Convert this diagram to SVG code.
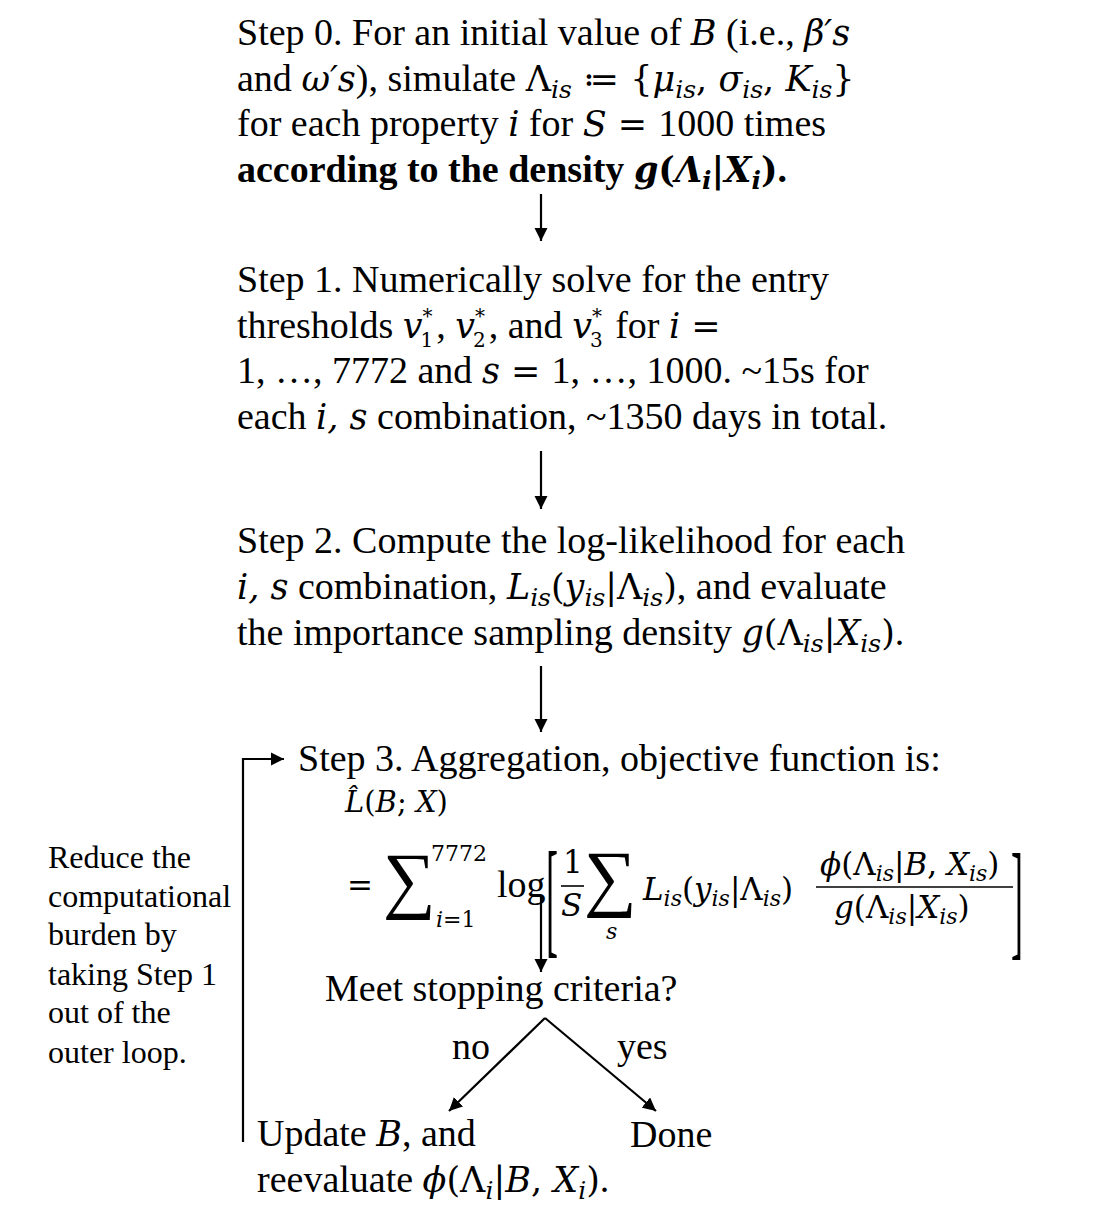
<svg xmlns="http://www.w3.org/2000/svg" width="1100" height="1210" viewBox="0 0 1100 1210">
<defs>
<style>
text{font-family:"Liberation Serif","Times New Roman",serif;fill:#000}
.t{font-size:38px}
.note{font-size:32px}
.mf{font-family:"DejaVu Serif",serif;font-style:italic;font-size:35px}
.mu{font-family:"DejaVu Serif",serif;font-size:35px}
.sb{font-family:"DejaVu Serif",serif;font-style:italic;font-size:25px}
.sn{font-family:"DejaVu Serif",serif;font-size:20px}
.f{font-family:"DejaVu Serif",serif;font-size:31px}
.fi{font-style:italic}
.fs{font-family:"DejaVu Serif",serif;font-size:22px}
.b{font-weight:bold}
.con{stroke:#000;stroke-width:2.2;fill:none}
</style>
<marker id="ah" viewBox="0 0 10 10" refX="10" refY="5" markerWidth="6" markerHeight="6" markerUnits="strokeWidth" orient="auto">
<path d="M0,0 L10,5 L0,10 z" fill="#000"/>
</marker>
</defs>
<rect width="1100" height="1210" fill="#fff"/>

<g id="step0" class="t">
<text x="237" y="45">Step 0. For an initial value of <tspan class="mf">B</tspan> (i.e., <tspan class="mf">β′s</tspan></text>
<text x="237" y="91">and <tspan class="mf">ω′s</tspan>), simulate <tspan class="mu">Λ</tspan><tspan class="sb" dy="7">is</tspan><tspan class="mu" dy="-7"> ≔ {</tspan><tspan class="mf">μ</tspan><tspan class="sb" dy="7">is</tspan><tspan class="mu" dy="-7">, </tspan><tspan class="mf">σ</tspan><tspan class="sb" dy="7">is</tspan><tspan class="mu" dy="-7">, </tspan><tspan class="mf">K</tspan><tspan class="sb" dy="7">is</tspan><tspan class="mu" dy="-7">}</tspan></text>
<text x="237" y="136">for each property <tspan class="mf">i</tspan> for <tspan class="mf">S</tspan><tspan class="mu"> = </tspan>1000 times</text>
<text x="237" y="182" class="b">according to the density <tspan class="mf b">g</tspan><tspan class="mu b">(</tspan><tspan class="mf b">Λ</tspan><tspan class="sb b" dy="7">i</tspan><tspan class="mu b" dy="-7">|</tspan><tspan class="mf b">X</tspan><tspan class="sb b" dy="7">i</tspan><tspan class="mu b" dy="-7">)</tspan>.</text>
</g>

<g id="step1" class="t">
<text x="237" y="292">Step 1. Numerically solve for the entry</text>
<text x="237" y="338">thresholds <tspan class="mf">v</tspan><tspan class="sn" dy="-15">*</tspan><tspan class="sn" dx="-12" dy="24">1</tspan><tspan dx="3" dy="-9">, </tspan><tspan class="mf">v</tspan><tspan class="sn" dy="-15">*</tspan><tspan class="sn" dx="-12" dy="24">2</tspan><tspan dx="3" dy="-9">, and </tspan><tspan class="mf">v</tspan><tspan class="sn" dy="-15">*</tspan><tspan class="sn" dx="-12" dy="24">3</tspan><tspan dx="3" dy="-9"> for </tspan><tspan class="mf">i</tspan><tspan class="mu"> =</tspan></text>
<text x="237" y="383">1, …, 7772 and <tspan class="mf">s</tspan><tspan class="mu"> = </tspan>1, …, 1000. ~15s for</text>
<text x="237" y="429">each <tspan class="mf">i, s</tspan> combination, ~1350 days in total.</text>
</g>

<g id="step2" class="t">
<text x="237" y="553">Step 2. Compute the log-likelihood for each</text>
<text x="237" y="599"><tspan class="mf">i, s</tspan> combination, <tspan class="mf">L</tspan><tspan class="sb" dy="7">is</tspan><tspan class="mu" dy="-7">(</tspan><tspan class="mf">y</tspan><tspan class="sb" dy="7">is</tspan><tspan class="mu" dy="-7">|Λ</tspan><tspan class="sb" dy="7">is</tspan><tspan class="mu" dy="-7">)</tspan>, and evaluate</text>
<text x="237" y="645">the importance sampling density <tspan class="mf">g</tspan><tspan class="mu">(Λ</tspan><tspan class="sb" dy="7">is</tspan><tspan class="mu" dy="-7">|</tspan><tspan class="mf">X</tspan><tspan class="sb" dy="7">is</tspan><tspan class="mu" dy="-7">)</tspan>.</text>
</g>

<g id="step3">
<text x="298" y="771" class="t">Step 3. Aggregation, objective function is:</text>
<text x="345" y="812" class="f" style="font-size:29px"><tspan class="fi">L̂</tspan>(<tspan class="fi">B</tspan>; <tspan class="fi">X</tspan>)</text>
<text x="347" y="896" class="f">=</text>
<text x="383" y="904" style="font-family:'Liberation Serif',serif;font-size:74px">∑</text>
<text x="431" y="861" class="fs">7772</text>
<text x="436" y="927" class="fs"><tspan class="fi">i</tspan>=1</text>
<text x="497" y="897" class="t">log</text>
<text transform="translate(546,941) scale(1,3.6)" style="font-size:36px">[</text>
<text x="563" y="873" class="f">1</text>
<line x1="561" y1="886" x2="584" y2="886" stroke="#000" stroke-width="1.6"/>
<text x="561" y="916" class="f fi">S</text>
<text x="584" y="902" style="font-family:'Liberation Serif',serif;font-size:74px">∑</text>
<text x="606" y="939" class="fs fi">s</text>
<text x="643" y="900" class="f"><tspan class="fi">L</tspan><tspan class="fs fi" dy="6">is</tspan><tspan dy="-6">(</tspan><tspan class="fi">y</tspan><tspan class="fs fi" dy="6">is</tspan><tspan dy="-6">|Λ</tspan><tspan class="fs fi" dy="6">is</tspan><tspan dy="-6">)</tspan></text>
<text x="820" y="875" class="f"><tspan class="fi">ϕ</tspan>(Λ<tspan class="fs fi" dy="6">is</tspan><tspan dy="-6">|</tspan><tspan class="fi">B</tspan>, <tspan class="fi">X</tspan><tspan class="fs fi" dy="6">is</tspan><tspan dy="-6">)</tspan></text>
<line x1="816" y1="887" x2="1013" y2="887" stroke="#000" stroke-width="1.6"/>
<text x="834" y="918" class="f"><tspan class="fi">g</tspan>(Λ<tspan class="fs fi" dy="6">is</tspan><tspan dy="-6">|</tspan><tspan class="fi">X</tspan><tspan class="fs fi" dy="6">is</tspan><tspan dy="-6">)</tspan></text>
<text transform="translate(1011,943) scale(1,3.6)" style="font-size:36px">]</text>
</g>

<g id="decision">
<text x="325" y="1001" class="t">Meet stopping criteria?</text>
</g>
<g id="label-no"><text x="452" y="1059" class="t">no</text></g>
<g id="label-yes"><text x="617" y="1059" class="t">yes</text></g>

<g id="update" class="t">
<text x="257" y="1146">Update <tspan class="mf">B</tspan>, and</text>
<text x="257" y="1192">reevaluate <tspan class="mf">ϕ</tspan><tspan class="mu">(Λ</tspan><tspan class="sb" dy="7">i</tspan><tspan class="mu" dy="-7">|</tspan><tspan class="mf">B</tspan><tspan class="mu">, </tspan><tspan class="mf">X</tspan><tspan class="sb" dy="7">i</tspan><tspan class="mu" dy="-7">)</tspan>.</text>
</g>

<g id="done"><text x="630" y="1147" class="t">Done</text></g>

<g id="note" class="note">
<text x="48" y="868">Reduce the</text>
<text x="48" y="907">computational</text>
<text x="48" y="945">burden by</text>
<text x="48" y="985">taking Step 1</text>
<text x="48" y="1023">out of the</text>
<text x="48" y="1063">outer loop.</text>
</g>

<g id="connectors">
<line class="con" x1="541" y1="194" x2="541" y2="241" marker-end="url(#ah)"/>
<line class="con" x1="541" y1="451" x2="541" y2="509" marker-end="url(#ah)"/>
<line class="con" x1="541" y1="666" x2="541" y2="732" marker-end="url(#ah)"/>
<line class="con" x1="541" y1="895" x2="541" y2="972" marker-end="url(#ah)"/>
<line class="con" x1="545" y1="1018" x2="449" y2="1111" marker-end="url(#ah)"/>
<line class="con" x1="545" y1="1018" x2="656" y2="1111" marker-end="url(#ah)"/>
<polyline class="con" points="243,1142 243,759 284,759" marker-end="url(#ah)"/>
</g>
</svg>
